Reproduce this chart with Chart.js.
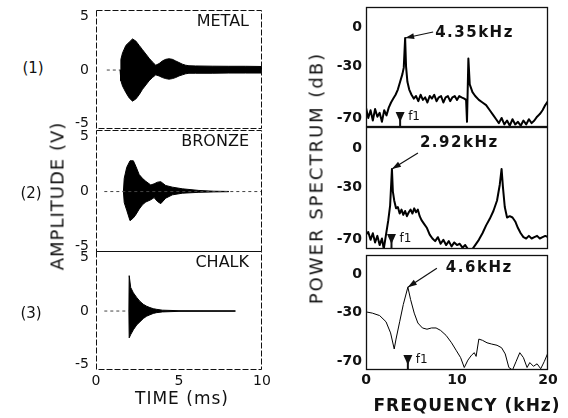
<!DOCTYPE html>
<html>
<head>
<meta charset="utf-8">
<script src="https://cdn.jsdelivr.net/npm/chart.js@4.4.1/dist/chart.umd.min.js"></script>
<style>
  html, body { margin: 0; padding: 0; background: #fff; }
  #fig { position: relative; width: 568px; height: 418px; overflow: hidden; font-family: "DejaVu Sans", sans-serif; color: #111; }
  canvas { position: absolute; }
  .t { position: absolute; white-space: nowrap; transform: translate(-50%, -50%); }
  .rot { transform: translate(-50%, -50%) rotate(-90deg); }
</style>
</head>
<body>
<div id="fig">
  <canvas id="w1" width="218" height="139" style="left:56px;top:0px"></canvas>
  <canvas id="w2" width="218" height="142" style="left:56px;top:120px"></canvas>
  <canvas id="w3" width="218" height="163" style="left:56px;top:241px"></canvas>
  <canvas id="s1" width="239" height="137" style="left:321px;top:0px"></canvas>
  <canvas id="s2" width="239" height="142" style="left:321px;top:117px"></canvas>
  <canvas id="s3" width="239" height="159" style="left:321px;top:245px"></canvas>

  <div class="t" style="left:33px;top:68px;font-size:15px">(1)</div>
  <div class="t" style="left:31px;top:193px;font-size:15px">(2)</div>
  <div class="t" style="left:31px;top:313px;font-size:15px">(3)</div>
  <div class="t rot" style="left:57px;top:196px;font-size:18px;letter-spacing:1px">AMPLITUDE (V)</div>
  <div class="t rot" style="left:316px;top:178px;font-size:18px;letter-spacing:2px">POWER SPECTRUM (dB)</div>
  <div class="t" style="left:182px;top:398px;font-size:17px;letter-spacing:1px">TIME  (ms)</div>
  <div class="t" style="left:467px;top:405px;font-size:17px;font-weight:bold;letter-spacing:1px">FREQUENCY  (kHz)</div>
</div>
<script>
// waveform envelopes (ms, V)
const metalT  = [1.45, 1.5, 1.6, 1.8, 2.0, 2.2, 2.4, 2.6, 2.8, 3.0, 3.2, 3.4, 3.6, 3.8, 4.0, 4.2, 4.4, 4.6, 4.8, 5.0, 5.2, 5.4, 5.6, 6.0, 7.0, 8.0, 9.0, 10.0];
const metalUp = [0, 1.0, 1.6, 2.3, 2.6, 2.9, 2.7, 2.3, 1.9, 1.5, 1.1, 0.75, 0.45, 0.6, 0.85, 1.0, 1.05, 1.0, 0.85, 0.7, 0.55, 0.45, 0.4, 0.38, 0.36, 0.35, 0.35, 0.33];
const metalLo = [0, -1.0, -1.5, -2.1, -2.6, -2.9, -2.7, -2.3, -1.8, -1.4, -1.0, -0.7, -0.45, -0.55, -0.7, -0.8, -0.85, -0.8, -0.7, -0.55, -0.45, -0.35, -0.3, -0.3, -0.3, -0.28, -0.28, -0.28];
const metalZero = [0.65, 1.45];

const bronzeT  = [1.65, 1.7, 1.85, 2.05, 2.25, 2.4, 2.6, 2.8, 3.0, 3.3, 3.5, 3.7, 3.9, 4.2, 4.6, 5.2, 6.2, 7.1, 8.0];
const bronzeUp = [0, 1.2, 2.2, 2.8, 2.8, 2.3, 1.55, 1.2, 0.93, 0.6, 0.7, 0.85, 0.9, 0.55, 0.4, 0.25, 0.1, 0.03, 0.01];
const bronzeLo = [0, -1.0, -1.7, -2.65, -2.4, -2.1, -1.6, -1.2, -0.95, -0.75, -0.55, -0.9, -1.1, -0.6, -0.3, -0.15, -0.07, -0.03, -0.01];
const bronzeZero = [0.5, 10];

const chalkT  = [1.98, 2.0, 2.09, 2.25, 2.45, 2.65, 2.85, 3.05, 3.25, 3.45, 3.65, 4.0, 5.0, 8.4];
const chalkUp = [0, 3.3, 2.2, 1.7, 1.27, 0.9, 0.63, 0.45, 0.32, 0.22, 0.16, 0.08, 0.03, 0.02];
const chalkLo = [0, -2.5, -2.2, -1.75, -1.3, -1.0, -0.7, -0.48, -0.35, -0.22, -0.15, -0.08, -0.03, -0.02];
const chalkZero = [0.5, 2.0];

// power spectra (kHz, dB)
const metalF = [0, 0.25, 0.5, 0.75, 1.0, 1.25, 1.5, 1.75, 2.0, 2.25, 2.5, 2.75, 3.0, 3.25, 3.5, 3.75, 4.0, 4.15, 4.3, 4.4, 4.55, 4.75, 5.0, 5.25, 5.5, 5.75, 6.0, 6.25, 6.5, 6.75, 7.0, 7.25, 7.5, 7.75, 8.0, 8.25, 8.5, 8.75, 9.0, 9.25, 9.5, 9.75, 10.0, 10.25, 10.5, 10.8, 11.0, 11.1, 11.25, 11.4, 11.7, 12.0, 12.4, 12.8, 13.2, 13.6, 14.0, 14.3, 14.6, 14.9, 15.2, 15.5, 15.8, 16.1, 16.4, 16.7, 17.0, 17.3, 17.6, 17.9, 18.2, 18.5, 18.8, 19.1, 19.4, 19.7, 20.0];
const metalDb = [-62, -70, -64, -72, -63, -69, -66, -73, -64, -68, -62, -58, -55, -52, -48, -42, -36, -31, -8, -30, -42, -48, -52, -55, -53, -57, -52, -56, -54, -58, -53, -55, -52, -57, -54, -53, -58, -54, -53, -57, -54, -53, -56, -53, -54, -55, -56, -73, -24, -44, -50, -53, -56, -58, -60, -64, -68, -71, -74, -70, -75, -72, -76, -71, -75, -73, -76, -72, -75, -71, -74, -72, -69, -67, -64, -60, -57];

const bronzeF = [0, 0.25, 0.5, 0.75, 1.0, 1.25, 1.5, 1.75, 1.95, 2.2, 2.45, 2.65, 2.85, 2.95, 3.1, 3.3, 3.5, 3.7, 3.9, 4.1, 4.3, 4.5, 4.7, 4.9, 5.1, 5.3, 5.5, 5.7, 5.9, 6.1, 6.4, 6.7, 7.0, 7.3, 7.6, 7.9, 8.2, 8.5, 8.8, 9.1, 9.4, 9.7, 10.0, 10.3, 10.6, 10.9, 11.2, 11.6, 12.0, 12.4, 12.8, 13.2, 13.6, 14.0, 14.4, 14.7, 14.9, 15.05, 15.25, 15.5, 15.8, 16.1, 16.4, 16.7, 17.0, 17.3, 17.6, 17.9, 18.2, 18.5, 18.8, 19.1, 19.4, 19.7, 20.0];
const bronzeDb = [-66, -64, -70, -65, -72, -67, -74, -69, -77, -66, -55, -44, -16, -33, -40, -46, -45, -50, -47, -51, -48, -52, -49, -47, -50, -46, -49, -47, -52, -55, -58, -61, -66, -69, -71, -68, -73, -70, -74, -71, -75, -72, -74, -73, -76, -74, -77, -78, -74, -70, -65, -59, -54, -48, -40, -28, -16, -30, -45, -53, -52, -53, -56, -61, -65, -68, -69, -67, -69, -68, -67, -69, -68, -67, -68];

const chalkF = [0, 0.7, 1.5, 2.2, 2.7, 3.1, 3.3, 3.7, 4.1, 4.6, 4.9, 5.3, 5.7, 6.2, 6.7, 7.2, 7.7, 8.2, 8.8, 9.4, 9.9, 10.4, 10.8, 11.2, 11.6, 11.9, 12.1, 12.4, 12.8, 13.3, 13.8, 14.4, 14.9, 15.3, 15.7, 16.1, 16.5, 16.9, 17.3, 17.7, 18.0, 18.4, 18.8, 19.2, 19.6, 20.0];
const chalkDb = [-30, -31, -33, -38, -47, -60, -52, -38, -24, -10, -20, -31, -39, -43, -44, -43, -43, -45, -49, -55, -61, -67, -75, -69, -65, -63, -66, -52, -53, -55, -56, -57, -59, -64, -75, -77, -70, -63, -67, -75, -71, -74, -72, -76, -70, -63];

const materials = ['METAL', 'BRONZE', 'CHALK'];
const peakFreq = [4.3, 2.85, 4.6];
const peakLabels = ['4.35kHz', '2.92kHz', '4.6kHz'];
const f1Freq = [3.75, 2.8, 4.6];
const timeTicks = [0, 5, 10];
const ampTicks = [5, 0, -5];
const freqTicks = [0, 10, 20];
const dbTicks = [0, -30, -70];

const INK = '#111';

// frame, tick labels and annotations, all placed through the chart scales
const deco = {
  id: 'deco',
  afterDatasetsDraw(chart, args, o) {
    const { ctx, chartArea: a, scales: { x, y } } = chart;
    ctx.save();
    ctx.strokeStyle = INK;
    ctx.fillStyle = INK;
    ctx.lineWidth = o.frameWidth || 1;
    ctx.setLineDash(o.frameDash || []);
    ctx.strokeRect(a.left + 0.5, a.top + 0.5, a.width - 1, a.height - 1);
    ctx.setLineDash([]);

    ctx.font = (o.tickBold ? 'bold ' : '') + '14px "DejaVu Sans"';
    ctx.textAlign = 'right';
    ctx.textBaseline = 'middle';
    o.yTicks.forEach(v => ctx.fillText(String(v), a.left - o.yPad, y.getPixelForValue(v)));
    if (o.xTicks) {
      ctx.textAlign = 'center';
      ctx.textBaseline = 'top';
      o.xTicks.forEach(v => ctx.fillText(String(v), x.getPixelForValue(v), a.bottom + o.xPad));
    }

    if (o.name) {
      ctx.font = '16px "DejaVu Sans"';
      ctx.textAlign = 'right';
      ctx.textBaseline = 'middle';
      ctx.fillText(o.name, a.right - 13, a.top + 12);
    }

    if (o.peak) {
      const p = o.peak;
      const i = p.freqs.indexOf(p.f);
      const px = x.getPixelForValue(p.f), py = y.getPixelForValue(p.db[i]);
      const sx = px + p.ax, sy = py + p.ay;
      ctx.lineWidth = 1.2;
      ctx.beginPath();
      ctx.moveTo(sx, sy);
      ctx.lineTo(px, py);
      ctx.stroke();
      const ang = Math.atan2(py - sy, px - sx);
      ctx.beginPath();
      ctx.moveTo(px, py);
      ctx.lineTo(px - 9 * Math.cos(ang) + 3 * Math.sin(ang), py - 9 * Math.sin(ang) - 3 * Math.cos(ang));
      ctx.lineTo(px - 9 * Math.cos(ang) - 3 * Math.sin(ang), py - 9 * Math.sin(ang) + 3 * Math.cos(ang));
      ctx.closePath();
      ctx.fill();
      ctx.font = 'bold 15px "DejaVu Sans"';
      try { ctx.letterSpacing = '1.5px'; } catch (e) {}
      ctx.textAlign = 'left';
      ctx.textBaseline = 'middle';
      ctx.fillText(p.text, px + p.tx, py + p.ty);
      try { ctx.letterSpacing = '0px'; } catch (e) {}
    }

    if (o.f1 != null) {
      const fx = x.getPixelForValue(o.f1), b = a.bottom;
      ctx.beginPath();
      ctx.moveTo(fx - 4.5, b - 15);
      ctx.lineTo(fx + 4.5, b - 15);
      ctx.lineTo(fx, b - 5);
      ctx.closePath();
      ctx.fill();
      ctx.fillRect(fx - 1, b - 8, 2, 7);
      ctx.font = '12px "DejaVu Sans"';
      ctx.textAlign = 'left';
      ctx.textBaseline = 'middle';
      ctx.fillText('f1', fx + 8, b - 10);
    }
    ctx.restore();
  }
};

function pts(xs, ys) {
  return xs.map((v, i) => ({ x: v, y: ys[i] }));
}

function baseOptions(pad, xr, yr, deco) {
  return {
    responsive: false,
    animation: false,
    devicePixelRatio: 1,
    layout: { padding: pad },
    elements: { point: { radius: 0 }, line: { tension: 0 } },
    plugins: { legend: { display: false }, tooltip: { enabled: false }, deco: deco },
    scales: {
      x: { type: 'linear', min: xr[0], max: xr[1], display: false },
      y: { type: 'linear', min: yr[0], max: yr[1], display: false }
    }
  };
}

function waveChart(id, t, up, lo, zero, name, last) {
  return new Chart(document.getElementById(id), {
    type: 'line',
    data: {
      datasets: [
        { data: pts(zero, zero.map(() => 0)), borderColor: '#444', borderWidth: 1, borderDash: [3, 3] },
        { data: pts(t, up), borderColor: '#000', backgroundColor: '#000', borderWidth: 1, fill: '+1' },
        { data: pts(t, lo), borderColor: '#000', borderWidth: 1 }
      ]
    },
    options: baseOptions(
      { top: 10, bottom: last ? 34 : 10, left: 40, right: 12 },
      [0, 10], [-5.5, 5.6],
      { name: name, frameDash: [6, 2], yTicks: ampTicks, yPad: 7, xTicks: last ? timeTicks : null, xPad: 4 }
    ),
    plugins: [deco]
  });
}

const peakPlace = [
  { ax: 28, ay: -6, tx: 30, ty: -5 },
  { ax: 26, ay: -16, tx: 28, ty: -26 },
  { ax: 29, ay: -19, tx: 38, ty: -19 }
];

function specChart(id, f, db, k, padTop, last, width) {
  return new Chart(document.getElementById(id), {
    type: 'line',
    data: {
      datasets: [
        { data: pts(f, db), borderColor: '#000', borderWidth: width, borderJoinStyle: 'round' }
      ]
    },
    options: baseOptions(
      { top: padTop, bottom: last ? 34 : 10, left: 45, right: 12 },
      [0, 20], [-77, 16],
      {
        frameWidth: 1.3, tickBold: true,
        yTicks: dbTicks, yPad: 4, xTicks: last ? freqTicks : null, xPad: 3,
        f1: f1Freq[k],
        peak: Object.assign({ freqs: f, db: db, f: peakFreq[k], text: peakLabels[k] }, peakPlace[k])
      }
    ),
    plugins: [deco]
  });
}

waveChart('w1', metalT, metalUp, metalLo, metalZero, materials[0], false);
waveChart('w2', bronzeT, bronzeUp, bronzeLo, bronzeZero, materials[1], false);
waveChart('w3', chalkT, chalkUp, chalkLo, chalkZero, materials[2], true);

specChart('s1', metalF, metalDb, 0, 7, false, 2);
specChart('s2', bronzeF, bronzeDb, 1, 10, false, 2);
specChart('s3', chalkF, chalkDb, 2, 10, true, 1);
</script>
</body>
</html>
